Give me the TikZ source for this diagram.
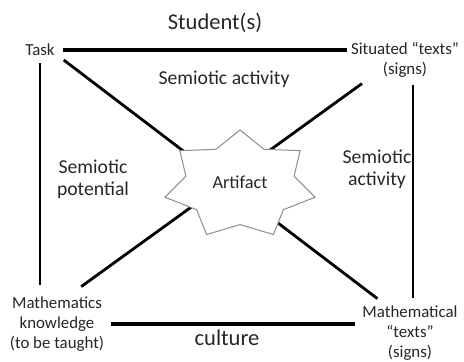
\documentclass[tikz,border=0pt]{standalone}
\usepackage{fontspec}
\setmainfont{Carlito}
\usetikzlibrary{positioning, backgrounds}

\begin{document}
\begin{tikzpicture}[
  x=0.025cm, y=0.025cm,
  every node/.style={inner sep=2pt, align=center, text=black!85},
  corner/.style={font=\fontsize{12}{14.2}\selectfont},
  field/.style={font=\fontsize{14}{15.6}\selectfont},
  pole/.style={font=\fontsize{16}{19}\selectfont},
  bigline/.style={line width=2.8pt},
  diag/.style={line width=2pt},
  side/.style={line width=1pt},
  artstar/.style={draw=black!45, fill=white, line width=0.7pt},
]
\useasboundingbox (0,0) rectangle (464,361);

% Poles of the triangle
\node[pole] (stud) at (215,338) {Student(s)};
\node[pole] (cult) at (227,23)  {culture};

% Corners
\node[corner] (task) at (40,311)  {Task};
\node[corner] (sit)  at (405,301) {Situated “texts”\\(signs)};
\node[corner] (mk)   at (57,37)   {Mathematics\\knowledge\\(to be taught)};
\node[corner] (mt)   at (410,28)  {Mathematical\\“texts”\\(signs)};

% Fields
\node[field] (act)  at (224,282) {Semiotic activity};
\node[field] (pot)  at (93,182)  {Semiotic\\potential};
\node[field] (act2) at (377,192) {Semiotic\\activity};

% Centre
\node[font=\fontsize{13}{15}\selectfont] (art) at (240,179) {Artifact};

% ── Frame ──
\draw[bigline, shorten <=4pt, shorten >=1pt] (task.east) -- (task.east -| sit.west);
\draw[bigline, shorten <=3pt, shorten >=3pt] (mk.east) -- (mk.east -| mt.west);
\draw[side, shorten <=3pt, shorten >=6pt] (task.south) -- (task.south |- mk.north);
\draw[side, shorten <=3pt, shorten >=3pt]
  ([xshift=0.2cm]sit.south) -- ([xshift=0.2cm]sit.south |- mt.north);

% ── Diagonals behind the artifact ──
\begin{scope}[on background layer]
\draw[diag] ([shift={(6,-1)}]task.south east) -- ([shift={(18,4)}]mt.north west);
\draw[diag] ([shift={(14,-3)}]sit.south west) -- ([shift={(-26,7)}]mk.north east);
\begin{scope}[shift={(240,176)}]
\filldraw[artstar] (90:77 and 55)
  \foreach \k in {1,...,13} {
    -- ({90+\k*360/14}:{77*(1-0.28*mod(\k,2))} and {55*(1-0.28*mod(\k,2))})
  } -- cycle;
\end{scope}
\end{scope}

\end{tikzpicture}
\end{document}
